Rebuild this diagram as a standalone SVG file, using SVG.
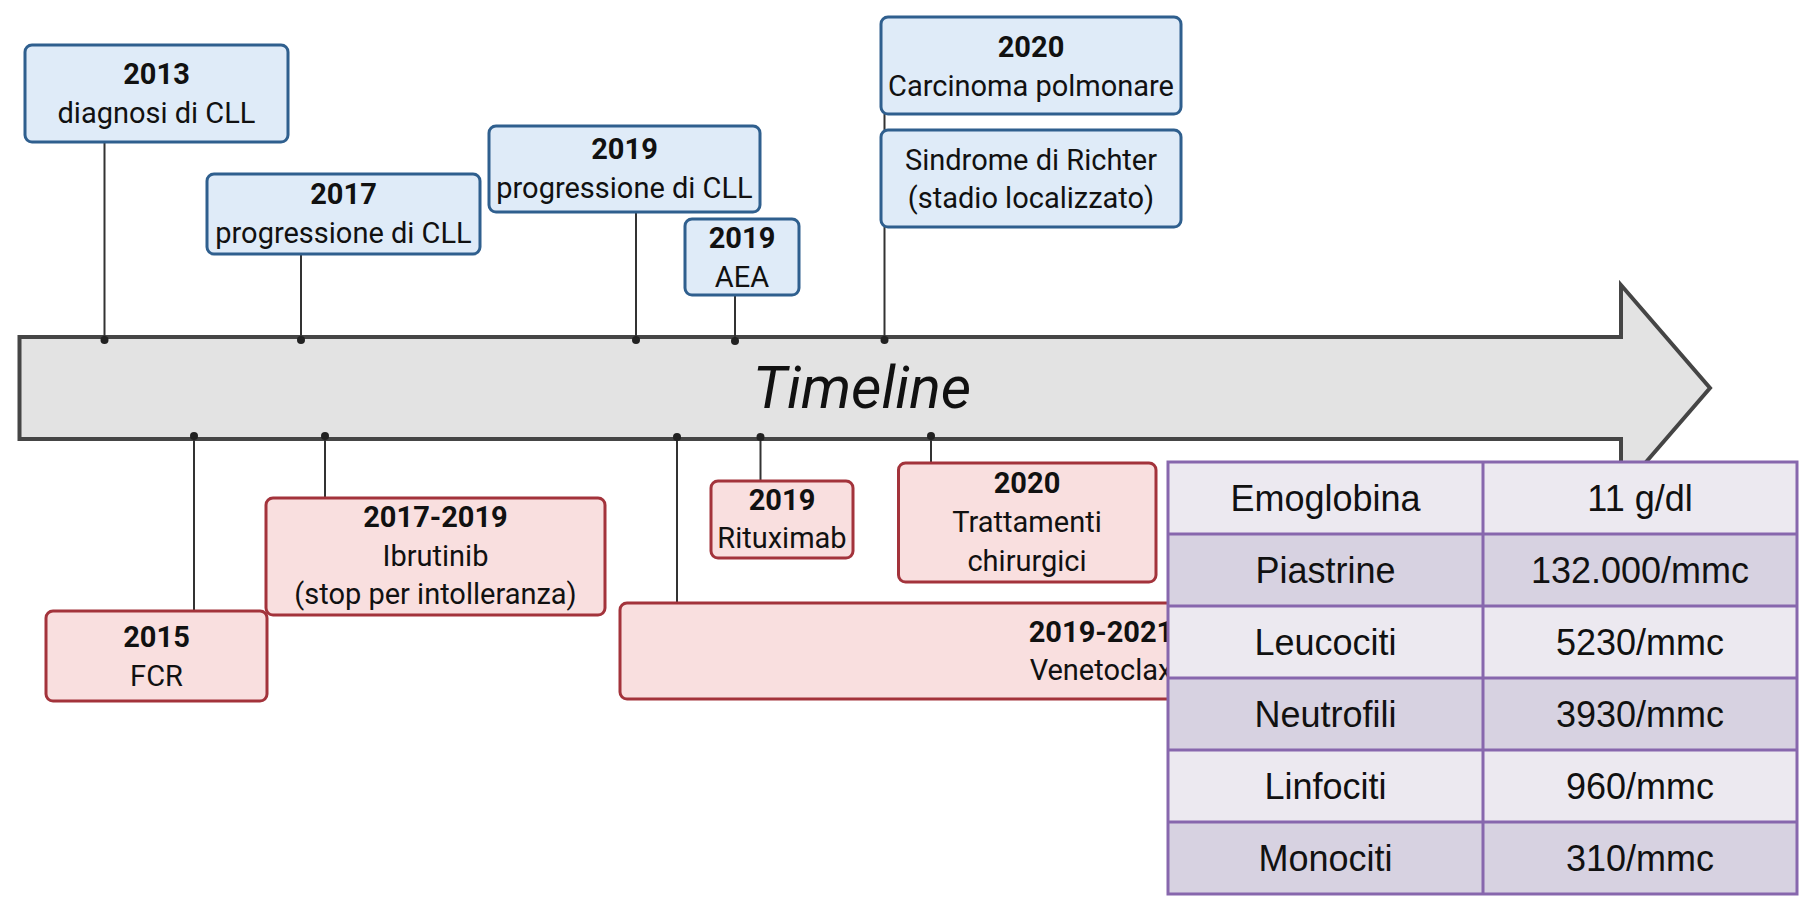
<svg xmlns="http://www.w3.org/2000/svg" width="1809" height="906" viewBox="0 0 1809 906">
<style>
.bg{fill:#ffffff}
.blue{fill:#dfebf8;stroke:#2f5f8e;stroke-width:3}
.pink{fill:#f9dfdf;stroke:#a3333b;stroke-width:3}
.t{font-family:Roboto,"Liberation Sans",sans-serif;font-size:29px;fill:#111;text-anchor:middle}
.b{font-weight:bold}
.conn{stroke:#333;stroke-width:2;fill:none}
.dot{fill:#222}
.arrow{fill:#e3e3e3;stroke:#454545;stroke-width:4;stroke-linejoin:miter}
.title{font-family:Roboto,"Liberation Sans",sans-serif;font-style:italic;font-size:59px;fill:#111;text-anchor:middle}
.r1{fill:#ece9f0}
.r2{fill:#d7d2e1}
.grid{stroke:#8767ad;stroke-width:3;fill:none}
.tt{font-family:"Liberation Sans",Arial,sans-serif;font-size:36px;fill:#111;text-anchor:middle}
</style>
<rect class="bg" x="0" y="0" width="1809" height="906"/>

<g id="timeline">
<polygon class="arrow" points="19.5,337 1621,337 1621,285 1710,388 1621,491 1621,439 19.5,439"/>
<text class="title" x="862" y="408">Timeline</text>
</g>

<g id="connectors">
<line class="conn" x1="104.5" y1="142" x2="104.5" y2="340"/>
<line class="conn" x1="301" y1="254" x2="301" y2="340"/>
<line class="conn" x1="636" y1="212" x2="636" y2="340"/>
<line class="conn" x1="735" y1="295" x2="735" y2="341"/>
<line class="conn" x1="884.5" y1="114" x2="884.5" y2="340"/>
<circle class="dot" cx="104.5" cy="340" r="4"/>
<circle class="dot" cx="301" cy="340" r="4"/>
<circle class="dot" cx="636" cy="340" r="4"/>
<circle class="dot" cx="735" cy="341" r="4"/>
<circle class="dot" cx="884.5" cy="340" r="4"/>
<line class="conn" x1="194" y1="436" x2="194" y2="612"/>
<line class="conn" x1="325" y1="436" x2="325" y2="498"/>
<line class="conn" x1="677" y1="437" x2="677" y2="603"/>
<line class="conn" x1="760.5" y1="437" x2="760.5" y2="481"/>
<line class="conn" x1="931" y1="436" x2="931" y2="463"/>
<circle class="dot" cx="194" cy="436" r="4"/>
<circle class="dot" cx="325" cy="436" r="4"/>
<circle class="dot" cx="677" cy="437" r="4"/>
<circle class="dot" cx="760.5" cy="437" r="4"/>
<circle class="dot" cx="931" cy="436" r="4"/>
</g>

<g id="n2013">
<rect class="blue" x="25" y="45" width="263" height="97" rx="7"/>
<text class="t b" x="156.5" y="84">2013</text>
<text class="t" x="156.5" y="123">diagnosi di CLL</text>
</g>
<g id="n2017">
<rect class="blue" x="207" y="174" width="273" height="80" rx="7"/>
<text class="t b" x="343.5" y="204">2017</text>
<text class="t" x="343.5" y="243">progressione di CLL</text>
</g>
<g id="n2019prog">
<rect class="blue" x="489" y="126" width="271" height="86" rx="7"/>
<text class="t b" x="624.5" y="159">2019</text>
<text class="t" x="624.5" y="198">progressione di CLL</text>
</g>
<g id="n2019aea">
<rect class="blue" x="685" y="219" width="114" height="76" rx="7"/>
<text class="t b" x="742" y="248">2019</text>
<text class="t" x="742" y="287">AEA</text>
</g>
<g id="n2020carc">
<rect class="blue" x="881" y="17" width="300" height="97" rx="7"/>
<text class="t b" x="1031" y="57">2020</text>
<text class="t" x="1031" y="96">Carcinoma polmonare</text>
</g>
<g id="nrichter">
<rect class="blue" x="881" y="130" width="300" height="97" rx="7"/>
<text class="t" x="1031" y="170">Sindrome di Richter</text>
<text class="t" x="1031" y="208">(stadio localizzato)</text>
</g>

<g id="n2015">
<rect class="pink" x="46" y="611" width="221" height="90" rx="7"/>
<text class="t b" x="156.5" y="647">2015</text>
<text class="t" x="156.5" y="686">FCR</text>
</g>
<g id="n2017_2019">
<rect class="pink" x="266" y="498" width="339" height="117" rx="7"/>
<text class="t b" x="435.5" y="527">2017-2019</text>
<text class="t" x="435.5" y="566">Ibrutinib</text>
<text class="t" x="435.5" y="604">(stop per intolleranza)</text>
</g>
<g id="nvenetoclax">
<rect class="pink" x="620" y="603" width="962" height="96" rx="7"/>
<text class="t b" x="1101" y="642">2019-2021</text>
<text class="t" x="1101" y="680">Venetoclax</text>
</g>
<g id="nrituximab">
<rect class="pink" x="711" y="481" width="142" height="77" rx="7"/>
<text class="t b" x="782" y="510">2019</text>
<text class="t" x="782" y="548">Rituximab</text>
</g>
<g id="n2020tratt">
<rect class="pink" x="898.5" y="463" width="257.5" height="119" rx="7"/>
<text class="t b" x="1027" y="493">2020</text>
<text class="t" x="1027" y="532">Trattamenti</text>
<text class="t" x="1027" y="571">chirurgici</text>
</g>

<g id="table">
<rect class="r1" x="1168" y="462" width="629" height="72"/>
<rect class="r2" x="1168" y="534" width="629" height="72"/>
<rect class="r1" x="1168" y="606" width="629" height="72"/>
<rect class="r2" x="1168" y="678" width="629" height="72"/>
<rect class="r1" x="1168" y="750" width="629" height="72"/>
<rect class="r2" x="1168" y="822" width="629" height="72"/>
<rect class="grid" x="1168" y="462" width="629" height="432"/>
<path class="grid" d="M1483,462V894M1168,534H1797M1168,606H1797M1168,678H1797M1168,750H1797M1168,822H1797"/>
<text class="tt" x="1325.5" y="511">Emoglobina</text>
<text class="tt" x="1640" y="511">11 g/dl</text>
<text class="tt" x="1325.5" y="583">Piastrine</text>
<text class="tt" x="1640" y="583">132.000/mmc</text>
<text class="tt" x="1325.5" y="655">Leucociti</text>
<text class="tt" x="1640" y="655">5230/mmc</text>
<text class="tt" x="1325.5" y="727">Neutrofili</text>
<text class="tt" x="1640" y="727">3930/mmc</text>
<text class="tt" x="1325.5" y="799">Linfociti</text>
<text class="tt" x="1640" y="799">960/mmc</text>
<text class="tt" x="1325.5" y="871">Monociti</text>
<text class="tt" x="1640" y="871">310/mmc</text>
</g>
</svg>
